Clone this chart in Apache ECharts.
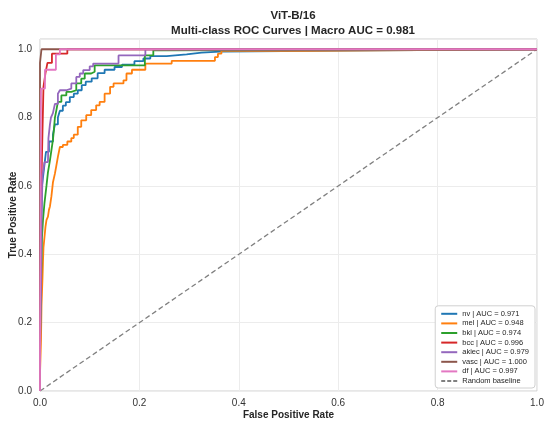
<!DOCTYPE html>
<html>
<head>
<meta charset="utf-8">
<script src="https://cdn.jsdelivr.net/npm/echarts@6/dist/echarts.min.js"></script>
<style>html,body{margin:0;padding:0;background:#fff}#c{width:550px;height:425px}</style>
</head>
<body>
<div id="c"></div>
<script>
// Class names and AUC values
var classNames = ['nv', 'mel', 'bkl', 'bcc', 'akiec', 'vasc', 'df'];
var aucValues = ['0.971', '0.948', '0.974', '0.996', '0.979', '1.000', '0.997'];
var macroAuc = '0.981';
var modelName = 'ViT-B/16';
var tickLabels = ['0.0', '0.2', '0.4', '0.6', '0.8', '1.0'];

// ROC points [FPR, TPR]: each point is the top of a vertical riser (step: end)
var nvRoc = [[0,0],[0,0.2],[0.002,0.45],[0.004,0.6],[0.008,0.65],[0.012,0.70],[0.018,0.73],[0.026,0.75],[0.03,0.78],[0.036,0.80],[0.04,0.82],[0.046,0.835],[0.052,0.845],[0.06,0.86],[0.068,0.87],[0.076,0.88],[0.084,0.895],[0.092,0.905],[0.104,0.915],[0.116,0.93],[0.13,0.94],[0.15,0.948],[0.165,0.955],[0.19,0.965],[0.208,0.973],[0.222,0.98],[0.255,0.985],[0.295,0.99],[0.325,0.993],[0.362,0.997],[0.68,1.0],[1,1]];
var melRoc = [[0,0],[0,0.05],[0.002,0.15],[0.003,0.25],[0.005,0.33],[0.006,0.38],[0.007,0.42],[0.009,0.45],[0.011,0.48],[0.013,0.5],[0.016,0.51],[0.018,0.53],[0.02,0.54],[0.023,0.57],[0.026,0.61],[0.03,0.636],[0.033,0.66],[0.036,0.685],[0.04,0.714],[0.046,0.72],[0.055,0.73],[0.063,0.74],[0.068,0.75],[0.076,0.773],[0.083,0.792],[0.093,0.807],[0.103,0.822],[0.113,0.836],[0.12,0.846],[0.13,0.87],[0.141,0.89],[0.148,0.9],[0.168,0.909],[0.174,0.929],[0.185,0.94],[0.212,0.958],[0.265,0.966],[0.352,0.977],[0.358,0.987],[0.365,0.995],[0.53,1.0],[1,1]];
var bklRoc = [[0,0],[0,0.15],[0.002,0.3],[0.004,0.45],[0.006,0.5],[0.009,0.55],[0.013,0.6],[0.016,0.64],[0.02,0.675],[0.023,0.705],[0.026,0.735],[0.028,0.765],[0.03,0.8],[0.033,0.822],[0.036,0.846],[0.043,0.865],[0.053,0.875],[0.063,0.88],[0.073,0.9],[0.083,0.914],[0.09,0.929],[0.103,0.934],[0.11,0.953],[0.211,0.982],[0.228,0.997],[0.245,1.0],[1,1]];
var bccRoc = [[0,0],[0,0.45],[0.003,0.62],[0.005,0.76],[0.007,0.89],[0.011,0.93],[0.015,0.96],[0.024,0.987],[0.055,1.0],[1,1]];
var akiecRoc = [[0,0],[0,0.1],[0.002,0.3],[0.003,0.5],[0.005,0.63],[0.009,0.67],[0.016,0.675],[0.017,0.74],[0.02,0.78],[0.022,0.8],[0.026,0.813],[0.03,0.84],[0.036,0.87],[0.04,0.88],[0.053,0.885],[0.063,0.9],[0.073,0.919],[0.08,0.929],[0.087,0.939],[0.1,0.95],[0.107,0.958],[0.158,0.982],[0.212,1.0],[1,1]];
var vascRoc = [[0,0],[0,0.96],[0.003,1.0],[1,1]];
var dfRoc = [[0,0],[0,0.12],[0.002,0.885],[0.01,0.94],[0.032,0.985],[0.04,1.0],[1,1]];
var baseline = [[0,0],[1,1]];

var rocData = [nvRoc, melRoc, bklRoc, bccRoc, akiecRoc, vascRoc, dfRoc];
var colors = ['#1f77b4', '#ff7f0e', '#2ca02c', '#d62728', '#9467bd', '#8c564b', '#e377c2'];

var lineIcon = 'path://M0,0h16v2h-16z';
var dashIcon = 'path://M0,0h4v2h-4z M6,0h4v2h-4z M12,0h4v2h-4z';

var series = classNames.map(function (n, i) {
  return {
    name: n + ' | AUC = ' + aucValues[i],
    type: 'line',
    step: 'end',
    data: rocData[i],
    symbol: 'none',
    showSymbol: false,
    lineStyle: { color: colors[i], width: 1.8 },
    itemStyle: { color: colors[i] },
    animation: false,
    z: 2 + i
  };
});
series.push({
  name: 'Random baseline',
  type: 'line',
  data: baseline,
  symbol: 'none',
  showSymbol: false,
  lineStyle: { color: '#808080', width: 1.3, type: [5, 3] },
  itemStyle: { color: '#808080' },
  animation: false,
  z: 1
});

var legendData = series.map(function (s, i) {
  return { name: s.name, icon: i < classNames.length ? lineIcon : dashIcon, itemStyle: { color: s.lineStyle.color, borderWidth: 0 } };
});

var chart = echarts.init(document.getElementById('c'), null, { renderer: 'canvas' });
chart.setOption({
  backgroundColor: '#ffffff',
  textStyle: { fontFamily: 'Liberation Sans, Arial, sans-serif' },
  title: {
    text: modelName + '\nMulti-class ROC Curves | Macro AUC = ' + macroAuc,
    left: 288, top: 3, textAlign: 'center',
    textStyle: { fontSize: 11.5, fontWeight: 'bold', color: '#262626', lineHeight: 15, fontFamily: 'Liberation Sans, Arial, sans-serif' }
  },
  grid: { left: 40, right: 13, top: 39, bottom: 34, containLabel: false, outerBoundsMode: 'none', show: true, borderColor: '#cfcfcf', borderWidth: 1, backgroundColor: '#fff' },
  xAxis: {
    type: 'value', min: 0, max: 1, interval: 0.2,
    name: 'False Positive Rate', nameLocation: 'middle', nameGap: 19, nameMoveOverlap: false,
    nameTextStyle: { fontSize: 10, fontWeight: 'bold', color: '#262626' },
    axisLine: { show: false }, axisTick: { show: false },
    axisLabel: { fontSize: 10, color: '#333', margin: 7, formatter: function (v) { return tickLabels[Math.round(v / 0.2)] || ''; } },
    splitLine: { show: true, lineStyle: { color: '#ececec', width: 1 } }
  },
  yAxis: {
    type: 'value', min: 0, max: 1.03, interval: 0.2,
    name: 'True Positive Rate', nameLocation: 'middle', nameGap: 22, nameMoveOverlap: false,
    nameTextStyle: { fontSize: 10, fontWeight: 'bold', color: '#262626' },
    axisLine: { show: false }, axisTick: { show: false },
    axisLabel: { fontSize: 10, color: '#333', margin: 8, showMaxLabel: false, formatter: function (v) { var k = Math.round(v / 0.2); return Math.abs(v - k * 0.2) < 1e-6 ? (tickLabels[k] || '') : ''; } },
    splitLine: { show: true, lineStyle: { color: '#ececec', width: 1 } }
  },
  legend: {
    orient: 'vertical', right: 15, bottom: 37,
    itemWidth: 16, itemHeight: 2, itemGap: 1.6,
    padding: [4, 6, 3, 6],
    backgroundColor: '#fff', borderColor: '#d0d0d0', borderWidth: 1, borderRadius: 3,
    textStyle: { fontSize: 7.5, color: '#262626', lineHeight: 8 },
    data: legendData
  },
  series: series
});
</script>
</body>
</html>
